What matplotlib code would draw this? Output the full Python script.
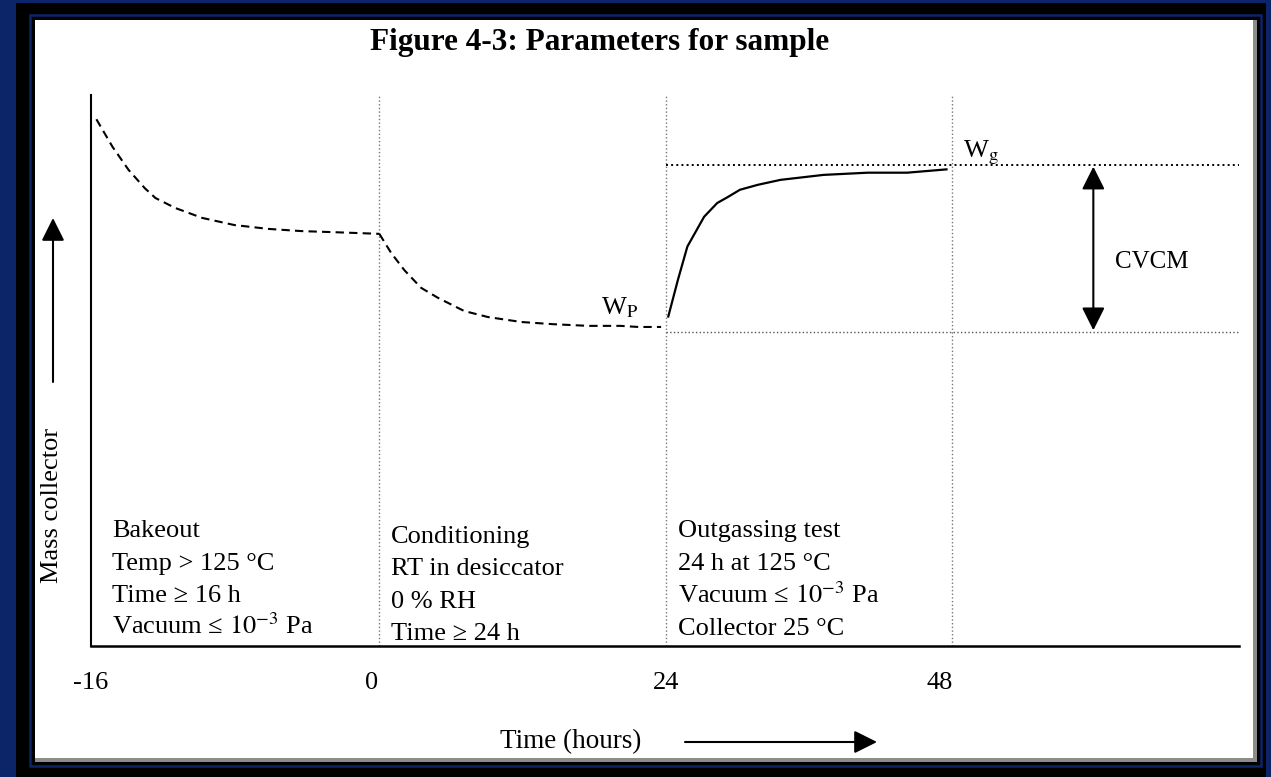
import numpy as np
import matplotlib
matplotlib.use("Agg")
import matplotlib.pyplot as plt
from matplotlib.patches import Rectangle

plt.rcParams['font.family'] = ['Liberation Serif', 'DejaVu Serif']
plt.rcParams['mathtext.fontset'] = 'stix'

# --- data (hours, relative mass) ---
bake_h = [-15.8, -14.9, -14.0, -13.1, -12.5, -11.4, -9.9, -8.1, -6.2, -4.35, -2.5, 0.0]
bake_m = [95.6, 90.6, 86.4, 83.1, 81.3, 79.5, 77.7, 76.4, 75.7, 75.3, 75.1, 74.8]

cond_h = [0.0, 1.0, 2.1, 3.5, 4.9, 7.1, 9.1, 11.9, 14.6, 17.5, 20.2, 21.7, 23.6]
cond_m = [74.8, 71.3, 68.2, 65.0, 63.2, 60.8, 59.7, 58.8, 58.4, 58.1, 58.1, 57.9, 57.9]

outg_h = [24.2, 25.0, 25.8, 27.2, 28.3, 29.2, 30.2, 31.7, 33.6, 37.2, 40.9, 44.2, 47.5]
outg_m = [59.8, 66.4, 72.5, 77.9, 80.4, 81.5, 82.8, 83.7, 84.6, 85.5, 85.9, 85.9, 86.5]

wg_level = 87.3
wp_level = 57.0
phase_bounds = [0, 24, 48]

tick_pos = [-16.1, -0.45, 24, 46.9]
tick_labels = ['-16', '0', '24', '48']

vac = r'Vacuum ≤ $\mathrm{10^{-3}}$ Pa'
bake_text = ['Bakeout', 'Temp > 125 °C', 'Time ≥ 16 h', vac]
cond_text = ['Conditioning', 'RT in desiccator', '0 % RH', 'Time ≥ 24 h']
outg_text = ['Outgassing test', '24 h at 125 °C', vac, 'Collector 25 °C']

W, H = 1271, 777


def fwd(h):
    h = np.asarray(h, float)
    return np.where(h < 0, (h + 16) / 16, 1 + h / 24)


def inv(p):
    p = np.asarray(p, float)
    return np.where(p < 1, p * 16 - 16, (p - 1) * 24)


def fx(x):
    return x / W


def fy(y):
    return (H - y) / H


fig = plt.figure(figsize=(12.71, 7.77), dpi=100)
fig.patch.set_facecolor('#0c2468')

# frame
fig.patches.append(Rectangle((fx(16), fy(777)), fx(1250), 774 / H, transform=fig.transFigure,
                             facecolor='black', edgecolor='none', zorder=-5))
fig.patches.append(Rectangle((fx(30), fy(766)), fx(1231), 751 / H, transform=fig.transFigure,
                             facecolor='none', edgecolor='#0c2468', lw=1.8, zorder=-4))
fig.patches.append(Rectangle((fx(35), fy(762)), fx(1222), 742 / H, transform=fig.transFigure,
                             facecolor='#8c8c8c', edgecolor='none', zorder=-3))
fig.patches.append(Rectangle((fx(35), fy(758)), fx(1218), 738 / H, transform=fig.transFigure,
                             facecolor='white', edgecolor='none', zorder=-2))

ax = fig.add_axes([fx(91), fy(646), fx(1239 - 91), (646 - 95) / H])
ax.set_facecolor('none')
ax.set_xscale('function', functions=(fwd, inv))
ax.set_xlim(-16, 72)
ax.set_ylim(0, 100)

for s in ['top', 'right']:
    ax.spines[s].set_visible(False)
ax.spines['left'].set_linewidth(1.5)
ax.spines['bottom'].set_linewidth(1.8)

ax.set_yticks([])
ax.set_xticks(tick_pos, tick_labels)
ax.tick_params(axis='x', length=0, pad=19, labelsize=19)

for b in phase_bounds:
    ax.axvline(b, color='#777777', ls=':', lw=1.0)

ax.plot([24, 72], [wg_level, wg_level], color='black', ls=':', lw=1.4)
ax.plot([24, 72], [wp_level, wp_level], color='#555555', ls=':', lw=1.0)

ax.plot(bake_h, bake_m, color='black', lw=1.5, ls=(0, (4, 2.5)))
ax.plot(cond_h, cond_m, color='black', lw=1.5, ls=(0, (4, 2.5)))
ax.plot(outg_h, outg_m, color='black', lw=1.6)

ax.annotate('', xy=(59.8, 87.0), xytext=(59.8, 57.3),
            arrowprops=dict(arrowstyle='<|-|>,head_length=0.7,head_width=0.35',
                            mutation_scale=20, color='black', lw=1.5, shrinkA=0, shrinkB=0))
ax.text(61.6, 69.7, 'CVCM', fontsize=18, va='center', ha='left')

ax.text(18.6, 60.1, r'W$_{\rm P}$', fontsize=19, va='baseline', ha='left')
ax.text(48.9, 88.6, r'W$_{\rm g}$', fontsize=19, va='baseline', ha='left')

# phase notes
for lines, x0, base in [(bake_text, -14.9, [19.8, 13.8, 8.0, 2.2]),
                        (cond_text, 1.0, [18.7, 12.9, 6.9, 1.1]),
                        (outg_text, 25.0, [19.8, 13.8, 7.8, 2.0])]:
    for t, yb in zip(lines, base):
        ax.text(x0, yb, t, fontsize=19, va='baseline', ha='left')

# figure-level labels
fig.text(fx(600), fy(50), 'Figure 4-3: Parameters for sample', fontsize=22.5,
         fontweight='bold', ha='center', va='baseline')
fig.text(fx(500), fy(748), 'Time (hours)', fontsize=19.5, ha='left', va='baseline')
fig.text(fx(52), fy(505), 'Mass collector', fontsize=19, rotation=90, ha='center', va='center')

ax.annotate('', xy=(877, H - 742), xytext=(685, H - 742), xycoords='figure pixels',
            textcoords='figure pixels',
            arrowprops=dict(arrowstyle='-|>,head_length=0.7,head_width=0.35',
                            mutation_scale=20, color='black', lw=1.5, shrinkA=0, shrinkB=0))
ax.annotate('', xy=(53, H - 218), xytext=(53, H - 382), xycoords='figure pixels',
            textcoords='figure pixels',
            arrowprops=dict(arrowstyle='-|>,head_length=0.7,head_width=0.35',
                            mutation_scale=20, color='black', lw=1.5, shrinkA=0, shrinkB=0))

fig.savefig('out.png', dpi=100, facecolor=fig.get_facecolor())
